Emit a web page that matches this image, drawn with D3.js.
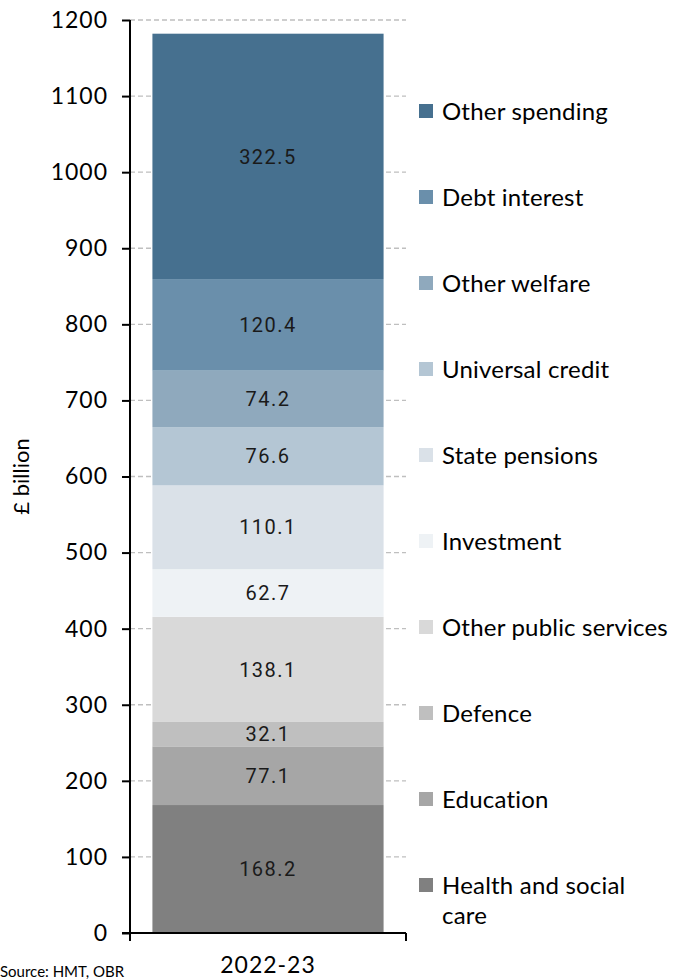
<!DOCTYPE html>
<html>
<head>
<meta charset="utf-8">
<script src="https://cdn.jsdelivr.net/npm/d3@7"></script>
<style>
  body { margin: 0; background: #fff; }
  svg { display: block; }
</style>
</head>
<body>
<div id="chart"></div>
<script>
// DATA (bottom of stack first)
const categories = ["Health and social care", "Education", "Defence", "Other public services",
  "Investment", "State pensions", "Universal credit", "Other welfare", "Debt interest", "Other spending"];
const values = [168.2, 77.1, 32.1, 138.1, 62.7, 110.1, 76.6, 74.2, 120.4, 322.5];
const colours = ["#808080", "#a6a6a6", "#bfbfbf", "#d9d9d9", "#eef2f5",
  "#dae1e8", "#b4c6d4", "#8fa9bd", "#6a8fab", "#46708f"];
const yearLabel = ["2022-23"];
const yTicks = [0, 100, 200, 300, 400, 500, 600, 700, 800, 900, 1000, 1100, 1200];

// SIZE
const width = 673, height = 980;
const margin = { left: 130, top: 20, bottom: 47 };
const plotRight = 406;

const svg = d3.select("#chart").append("svg")
  .attr("width", width).attr("height", height);

const y = d3.scaleLinear().domain([0, 1200]).range([height - margin.bottom, margin.top]);
const x = d3.scaleBand().domain(yearLabel).range([margin.left, plotRight]).paddingInner(0).paddingOuter(0.097);

const tickFont = "Lato, 'Open Sans', sans-serif";

// GRIDLINES
svg.append("g").selectAll("line")
  .data(yTicks.filter(d => d > 0))
  .join("line")
  .attr("x1", margin.left).attr("x2", plotRight)
  .attr("y1", d => y(d)).attr("y2", d => y(d))
  .attr("stroke", "#bfbfbf").attr("stroke-width", 1.3)
  .attr("stroke-dasharray", "5,3");

// STACKED BAR
let run = 0;
const stacked = values.map((v, i) => {
  const seg = { name: categories[i], value: v, y0: run, y1: run + v, colour: colours[i] };
  run += v;
  return seg;
});

svg.append("g").selectAll("rect")
  .data(stacked)
  .join("rect")
  .attr("x", x("2022-23"))
  .attr("width", x.bandwidth())
  .attr("y", d => y(d.y1))
  .attr("height", d => y(d.y0) - y(d.y1))
  .attr("fill", d => d.colour);

svg.append("g").selectAll("text")
  .data(stacked)
  .join("text")
  .attr("x", x("2022-23") + x.bandwidth() / 2)
  .attr("y", d => (y(d.y0) + y(d.y1)) / 2)
  .attr("dy", "0.36em")
  .attr("text-anchor", "middle")
  .attr("font-family", "Roboto, sans-serif")
  .attr("font-size", 20)
  .attr("letter-spacing", 1.5)
  .attr("fill", "#1a1a1a")
  .text(d => d.value.toFixed(1));

// Y AXIS
const yAxis = svg.append("g")
  .attr("transform", `translate(${margin.left},0)`)
  .call(d3.axisLeft(y).tickValues(yTicks).tickFormat(d3.format("d")).tickSize(8).tickPadding(14));
yAxis.selectAll("line, path").attr("stroke", "#000").attr("stroke-width", 2);
yAxis.select(".domain").attr("d", `M0,${y(1200)}V${y(0)}`);
yAxis.selectAll("text")
  .attr("font-family", tickFont).attr("font-size", 23).attr("fill", "#000")
  .attr("letter-spacing", 1);

// X AXIS
const xAxisY = y(0);
svg.append("line")
  .attr("x1", margin.left - 8).attr("x2", plotRight)
  .attr("y1", xAxisY).attr("y2", xAxisY)
  .attr("stroke", "#000").attr("stroke-width", 2);
svg.append("g").selectAll("line")
  .data([margin.left, plotRight])
  .join("line")
  .attr("x1", d => d).attr("x2", d => d)
  .attr("y1", xAxisY).attr("y2", xAxisY + 8)
  .attr("stroke", "#000").attr("stroke-width", 2);
svg.append("text")
  .attr("x", x("2022-23") + x.bandwidth() / 2)
  .attr("y", xAxisY + 40)
  .attr("text-anchor", "middle")
  .attr("font-family", tickFont).attr("font-size", 23).attr("letter-spacing", 1)
  .text(yearLabel[0]);

// Y LABEL
svg.append("text")
  .attr("transform", `translate(29,${(y(0) + y(1200)) / 2}) rotate(-90)`)
  .attr("text-anchor", "middle")
  .attr("font-family", tickFont).attr("font-size", 22)
  .text("£ billion");

// LEGEND (top = Other spending)
const legendItems = stacked.slice().reverse();
const legend = svg.append("g").selectAll("g")
  .data(legendItems)
  .join("g")
  .attr("transform", (d, i) => `translate(419,${111 + i * 86})`);
legend.append("rect")
  .attr("x", 0).attr("y", -7).attr("width", 14).attr("height", 14)
  .attr("fill", d => d.colour);
legend.append("text")
  .attr("x", 23).attr("dy", "0.36em")
  .attr("font-family", tickFont).attr("font-size", 24)
  .attr("letter-spacing", 0.2)
  .attr("fill", "#000")
  .each(function (d) {
    const t = d3.select(this);
    if (d.name === "Health and social care") {
      t.append("tspan").attr("x", 23).text("Health and social");
      t.append("tspan").attr("x", 23).attr("dy", 30).text("care");
    } else {
      t.text(d.name);
    }
  });

// SOURCE (at the foot)
svg.append("text")
  .attr("x", 0).attr("y", 977)
  .attr("font-family", tickFont).attr("font-size", 15)
  .text("Source: HMT, OBR");
</script>
</body>
</html>
